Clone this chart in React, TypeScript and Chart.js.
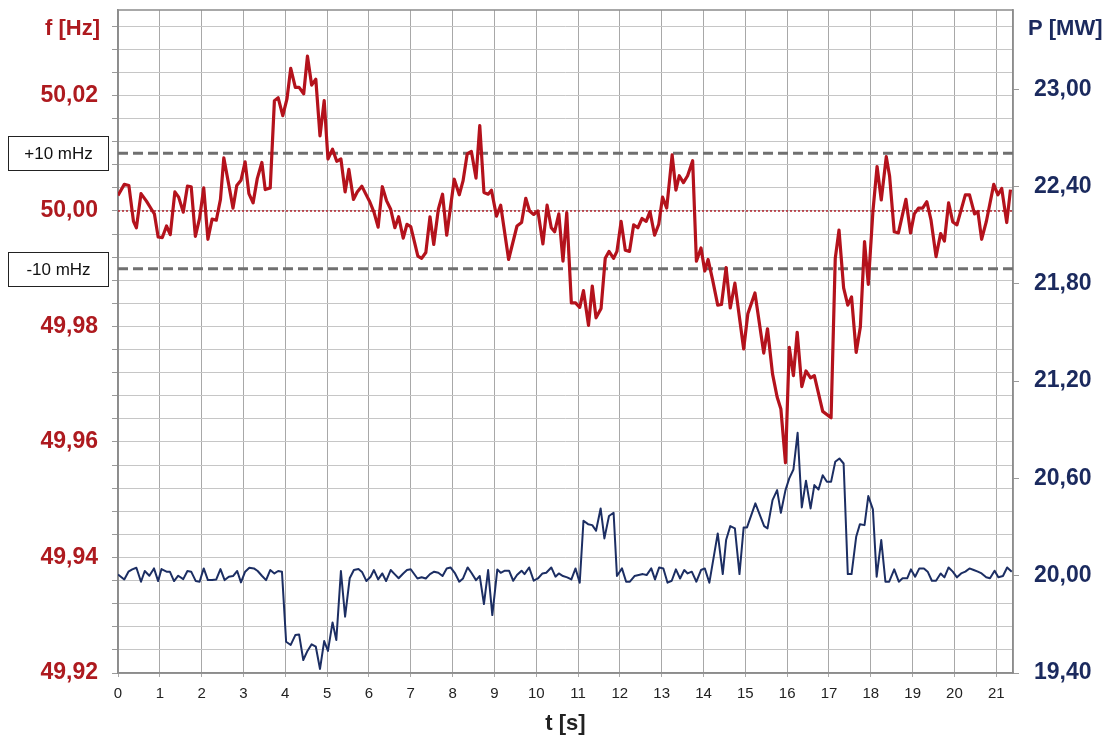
import { useEffect, useRef } from 'react';
import { Chart, registerables } from 'chart.js';

Chart.register(...registerables);

const FONT = '"Liberation Sans", Arial, Helvetica, sans-serif';
const RED_TXT = '#AE1A1F';
const NAVY_TXT = '#1B2A5E';
const RED_LINE = '#B4121C';
const BLUE_LINE = '#1C2E63';

// X axis tick labels (seconds)
const timeTicks = [0, 1, 2, 3, 4, 5, 6, 7, 8, 9, 10, 11, 12, 13, 14, 15, 16, 17, 18, 19, 20, 21];
const timeMax = 21.4;

// Left axis (frequency)
const freqLabelTicks = [49.92, 49.94, 49.96, 49.98, 50.0, 50.02];
const freqMin = 49.92;
const freqMax = 50.0348;
const freqGridStep = 0.004;
const freqGridTop = 50.032;

// Right axis (power)
const powerTicks = [19.4, 20.0, 20.6, 21.2, 21.8, 22.4, 23.0];
const powerMin = 19.4;
const powerMax = 23.489;

// Reference lines
const nominalFreq = 50.0;
const bandFreqs = [50.01, 49.99];
const bandLabels = ['+10 mHz', '-10 mHz'];

// Frequency series [t (s), f (Hz)]
const freqSeries: [number, number][] = [
  [0.0, 50.0027], [0.15, 50.0046], [0.26, 50.0044], [0.37, 49.9982], [0.44, 49.9971], [0.55, 50.003], [0.68, 50.0017], [0.8, 50.0003], [0.87, 49.9995], [0.96, 49.9955],
  [1.06, 49.9954], [1.16, 49.9974], [1.25, 49.9959], [1.36, 50.0033], [1.45, 50.0024], [1.56, 49.9998], [1.66, 50.0043], [1.75, 50.0042], [1.85, 49.9956], [1.95, 49.9987],
  [2.05, 50.004], [2.15, 49.9951], [2.25, 49.9986], [2.35, 49.9984], [2.45, 50.002], [2.53, 50.0092], [2.64, 50.0049], [2.75, 50.0005], [2.84, 50.0044], [2.94, 50.0053],
  [3.04, 50.0085], [3.13, 50.003], [3.23, 50.0014], [3.33, 50.0056], [3.44, 50.0084], [3.52, 50.0037], [3.64, 50.004], [3.74, 50.0191], [3.83, 50.0196], [3.94, 50.0165],
  [4.04, 50.0194], [4.13, 50.0247], [4.24, 50.0214], [4.33, 50.0214], [4.44, 50.0203], [4.53, 50.0268], [4.63, 50.0218], [4.73, 50.0228], [4.83, 50.013], [4.93, 50.0191],
  [5.02, 50.009], [5.13, 50.0107], [5.23, 50.0086], [5.33, 50.009], [5.43, 50.0033], [5.52, 50.0072], [5.63, 50.002], [5.72, 50.0033], [5.83, 50.0043], [5.92, 50.003],
  [6.02, 50.0016], [6.12, 49.9998], [6.22, 49.9972], [6.32, 50.0042], [6.42, 50.0018], [6.52, 50.0003], [6.62, 49.9971], [6.71, 49.999], [6.82, 49.9953], [6.91, 49.9977],
  [7.0, 49.9973], [7.17, 49.9922], [7.26, 49.9918], [7.36, 49.9928], [7.46, 49.999], [7.55, 49.9942], [7.66, 50.0003], [7.76, 50.0029], [7.86, 49.9958], [8.04, 50.0055],
  [8.16, 50.0028], [8.25, 50.0052], [8.35, 50.0099], [8.45, 50.0103], [8.56, 50.0057], [8.65, 50.0148], [8.75, 50.0032], [8.85, 50.0029], [8.93, 50.0036], [9.05, 49.9991],
  [9.15, 50.001], [9.34, 49.9916], [9.54, 49.9974], [9.65, 49.998], [9.75, 50.0022], [9.84, 50.0], [9.94, 49.9994], [10.04, 50.0], [10.16, 49.9943], [10.26, 50.001],
  [10.36, 49.9971], [10.44, 49.9964], [10.54, 49.9995], [10.64, 49.9913], [10.73, 49.9997], [10.84, 49.9841], [10.94, 49.9841], [11.04, 49.9833], [11.13, 49.9862], [11.25, 49.9802],
  [11.34, 49.987], [11.43, 49.9815], [11.55, 49.9831], [11.65, 49.9918], [11.74, 49.993], [11.85, 49.9918], [11.93, 49.993], [12.03, 49.9982], [12.13, 49.9932], [12.23, 49.993],
  [12.33, 49.9976], [12.43, 49.9971], [12.53, 49.9987], [12.63, 49.9982], [12.72, 49.9999], [12.83, 49.9958], [12.93, 49.9977], [13.02, 50.0024], [13.12, 50.0005], [13.25, 50.0097],
  [13.34, 50.0036], [13.42, 50.0061], [13.52, 50.0049], [13.62, 50.0061], [13.74, 50.0087], [13.83, 49.9913], [13.94, 49.9936], [14.03, 49.9896], [14.11, 49.9916], [14.22, 49.988],
  [14.34, 49.9837], [14.43, 49.9838], [14.54, 49.9902], [14.64, 49.9832], [14.75, 49.9875], [14.96, 49.9761], [15.06, 49.9822], [15.23, 49.9858], [15.44, 49.9754], [15.53, 49.9796],
  [15.65, 49.9718], [15.76, 49.9678], [15.85, 49.9657], [15.96, 49.9564], [16.05, 49.9764], [16.15, 49.9715], [16.24, 49.979], [16.35, 49.9696], [16.45, 49.9723], [16.56, 49.9711],
  [16.65, 49.9715], [16.85, 49.9653], [17.05, 49.9642], [17.15, 49.9918], [17.24, 49.9967], [17.35, 49.9867], [17.45, 49.9837], [17.54, 49.9851], [17.65, 49.9755], [17.75, 49.9799],
  [17.85, 49.9947], [17.94, 49.9873], [18.05, 49.9999], [18.15, 50.0077], [18.25, 50.0019], [18.37, 50.0094], [18.45, 50.006], [18.56, 49.9964], [18.66, 49.9962], [18.84, 50.002],
  [18.95, 49.9962], [19.04, 49.9995], [19.14, 50.0005], [19.24, 50.0005], [19.34, 50.0016], [19.44, 49.9984], [19.56, 49.9921], [19.67, 49.9961], [19.76, 49.9948], [19.86, 50.0014],
  [19.96, 49.9981], [20.06, 49.9976], [20.16, 50.0002], [20.26, 50.0028], [20.36, 50.0028], [20.48, 49.9995], [20.56, 49.9999], [20.65, 49.9951], [20.76, 49.9981], [20.94, 50.0046],
  [21.04, 50.0028], [21.13, 50.0039], [21.25, 49.998], [21.34, 50.0037],
];

// Power series [t (s), P (MW)]
const powerSeries: [number, number][] = [
  [0.0, 20.008], [0.15, 19.977], [0.25, 20.025], [0.34, 20.039], [0.44, 20.049], [0.55, 19.963], [0.64, 20.029], [0.75, 20.0], [0.86, 20.045], [0.96, 19.967],
  [1.04, 20.041], [1.16, 20.025], [1.24, 20.025], [1.34, 19.967], [1.44, 20.0], [1.56, 19.979], [1.66, 20.029], [1.75, 20.025], [1.86, 19.967], [1.95, 19.963],
  [2.05, 20.045], [2.15, 19.973], [2.25, 19.973], [2.35, 19.977], [2.45, 20.041], [2.55, 19.973], [2.65, 19.994], [2.75, 19.998], [2.85, 20.029], [2.94, 19.959],
  [3.04, 20.025], [3.14, 20.049], [3.25, 20.045], [3.34, 20.029], [3.44, 20.0], [3.54, 19.973], [3.64, 20.035], [3.74, 20.014], [3.83, 20.029], [3.92, 20.025],
  [4.02, 19.593], [4.13, 19.573], [4.24, 19.634], [4.33, 19.638], [4.43, 19.48], [4.53, 19.536], [4.63, 19.577], [4.73, 19.562], [4.83, 19.425], [4.93, 19.597],
  [5.02, 19.536], [5.13, 19.712], [5.22, 19.603], [5.33, 20.029], [5.43, 19.747], [5.54, 19.984], [5.64, 20.035], [5.75, 20.041], [5.84, 20.021], [5.94, 19.967],
  [6.04, 19.994], [6.12, 20.035], [6.22, 19.977], [6.32, 20.014], [6.41, 19.967], [6.52, 20.035], [6.62, 20.008], [6.71, 19.984], [6.82, 20.014], [6.91, 20.035],
  [7.0, 20.04], [7.06, 20.018], [7.16, 19.983], [7.26, 19.99], [7.36, 19.983], [7.46, 20.01], [7.56, 20.025], [7.66, 20.018], [7.76, 19.998], [7.86, 20.045],
  [7.95, 20.051], [8.06, 20.014], [8.16, 19.963], [8.25, 19.983], [8.36, 20.051], [8.45, 20.018], [8.56, 19.973], [8.65, 19.998], [8.75, 19.825], [8.85, 20.035],
  [8.95, 19.757], [9.07, 20.039], [9.15, 20.018], [9.25, 20.031], [9.35, 20.031], [9.45, 19.969], [9.54, 20.004], [9.65, 20.031], [9.72, 20.01], [9.83, 20.051],
  [9.94, 19.969], [10.04, 19.983], [10.15, 20.014], [10.24, 20.018], [10.36, 20.051], [10.46, 19.994], [10.54, 20.014], [10.64, 19.998], [10.74, 19.99], [10.84, 19.977],
  [10.94, 20.045], [11.04, 19.957], [11.13, 20.339], [11.24, 20.318], [11.34, 20.312], [11.43, 20.277], [11.54, 20.415], [11.63, 20.23], [11.74, 20.368], [11.85, 20.388],
  [11.93, 19.998], [12.05, 20.045], [12.15, 19.963], [12.24, 19.963], [12.35, 19.998], [12.45, 20.004], [12.55, 20.01], [12.64, 20.004], [12.75, 20.045], [12.84, 19.977],
  [12.94, 20.051], [13.04, 20.045], [13.14, 19.957], [13.24, 19.969], [13.34, 20.039], [13.44, 19.983], [13.54, 20.035], [13.62, 20.014], [13.72, 20.025], [13.83, 19.963],
  [13.94, 20.035], [14.03, 20.045], [14.14, 19.957], [14.34, 20.261], [14.46, 20.01], [14.54, 20.22], [14.64, 20.306], [14.75, 20.292], [14.86, 20.01], [14.96, 20.298],
  [15.04, 20.298], [15.24, 20.446], [15.45, 20.306], [15.53, 20.292], [15.65, 20.466], [15.76, 20.528], [15.85, 20.388], [15.96, 20.528], [16.05, 20.6], [16.15, 20.655],
  [16.25, 20.881], [16.35, 20.421], [16.45, 20.586], [16.56, 20.415], [16.65, 20.559], [16.75, 20.532], [16.85, 20.62], [16.95, 20.579], [17.05, 20.579], [17.15, 20.703],
  [17.25, 20.723], [17.35, 20.692], [17.45, 20.01], [17.54, 20.01], [17.65, 20.24], [17.74, 20.318], [17.85, 20.312], [17.94, 20.491], [18.05, 20.409], [18.14, 19.994],
  [18.25, 20.22], [18.35, 19.963], [18.44, 19.963], [18.56, 20.039], [18.67, 19.963], [18.76, 19.984], [18.87, 19.984], [18.96, 20.039], [19.06, 19.994], [19.16, 20.045],
  [19.27, 20.045], [19.36, 20.025], [19.46, 19.969], [19.56, 19.969], [19.67, 20.014], [19.76, 19.99], [19.86, 20.051], [19.96, 20.025], [20.06, 19.99], [20.16, 20.014],
  [20.26, 20.025], [20.36, 20.045], [20.46, 20.035], [20.56, 20.025], [20.65, 20.014], [20.76, 19.99], [20.85, 19.984], [20.96, 20.031], [21.05, 19.99], [21.16, 19.998],
  [21.26, 20.051], [21.37, 20.025],
];

const fmt = (v: number) => v.toFixed(2).replace('.', ',');

export default function App() {
  const ref = useRef<HTMLCanvasElement>(null);

  useEffect(() => {
    const canvas = ref.current;
    if (!canvas) return;

    const overlay = {
      id: 'overlay',
      beforeDatasetsDraw(chart: any) {
        const { ctx, chartArea } = chart;
        ctx.save();
        ctx.strokeStyle = '#8C8C8C';
        ctx.lineWidth = 1.5;
        ctx.strokeRect(chartArea.left, chartArea.top, chartArea.right - chartArea.left, chartArea.bottom - chartArea.top);
        ctx.restore();
      },
      afterDraw(chart: any) {
        const { ctx } = chart;
        const yF = chart.scales.yF;
        ctx.save();
        ctx.font = `bold 22px ${FONT}`;
        ctx.textBaseline = 'middle';
        ctx.fillStyle = RED_TXT;
        ctx.textAlign = 'right';
        ctx.fillText('f [Hz]', 100, 29);
        ctx.fillStyle = NAVY_TXT;
        ctx.textAlign = 'left';
        ctx.fillText('P [MW]', 1028, 29);

        ctx.font = `17px ${FONT}`;
        ctx.textAlign = 'center';
        bandFreqs.forEach((f, i) => {
          const y = Math.round(yF.getPixelForValue(f));
          ctx.fillStyle = '#FFFFFF';
          ctx.fillRect(8, y - 17, 101, 35);
          ctx.strokeStyle = '#222222';
          ctx.lineWidth = 1;
          ctx.strokeRect(8.5, y - 16.5, 100, 34);
          ctx.fillStyle = '#111111';
          ctx.fillText(bandLabels[i], 58.5, y + 1);
        });
        ctx.restore();
      },
    };

    const chart = new Chart(canvas, {
      type: 'line',
      data: {
        datasets: [
          {
            label: 'f',
            data: freqSeries.map(([x, y]) => ({ x, y })),
            yAxisID: 'yF',
            borderColor: RED_LINE,
            borderWidth: 3.2,
            pointRadius: 0,
            tension: 0,
            borderJoinStyle: 'round',
            order: 0,
          },
          {
            label: 'P',
            data: powerSeries.map(([x, y]) => ({ x, y })),
            yAxisID: 'yP',
            borderColor: BLUE_LINE,
            borderWidth: 2,
            pointRadius: 0,
            tension: 0,
            borderJoinStyle: 'round',
            order: 1,
          },
          ...bandFreqs.map((f) => ({
            label: 'band',
            data: [{ x: 0, y: f }, { x: timeMax, y: f }],
            yAxisID: 'yF',
            borderColor: '#707070',
            borderWidth: 3,
            borderDash: [10, 5],
            pointRadius: 0,
            order: 2,
          })),
          {
            label: 'nominal',
            data: [{ x: 0, y: nominalFreq }, { x: timeMax, y: nominalFreq }],
            yAxisID: 'yF',
            borderColor: '#B0202A',
            borderWidth: 1.5,
            borderDash: [2, 2],
            pointRadius: 0,
            order: 3,
          },
        ] as any,
      },
      options: {
        responsive: false,
        animation: false,
        devicePixelRatio: 1,
        layout: { padding: { top: 10, left: 0, right: 0, bottom: 0 } },
        plugins: { legend: { display: false }, tooltip: { enabled: false } },
        events: [],
        scales: {
          x: {
            type: 'linear',
            min: 0,
            max: timeMax,
            afterBuildTicks: (s: any) => {
              s.ticks = timeTicks.map((v) => ({ value: v }));
            },
            afterFit: (s: any) => {
              s.height = 65;
              s.paddingLeft = 0;
              s.paddingRight = 0;
            },
            grid: { color: '#A8A8A8', lineWidth: 1, tickLength: 4, drawTicks: true },
            border: { display: true, color: '#8C8C8C', width: 1.5 },
            ticks: {
              autoSkip: false,
              maxRotation: 0,
              padding: 8,
              color: '#222222',
              font: { family: FONT, size: 15 },
              callback: (v: any) => String(v),
            },
            title: {
              display: true,
              text: 't [s]',
              color: '#222222',
              font: { family: FONT, size: 22, weight: 'bold' },
              padding: { top: 0, bottom: 1 },
            },
          },
          yF: {
            type: 'linear',
            position: 'left',
            min: freqMin,
            max: freqMax,
            afterBuildTicks: (s: any) => {
              const t: { value: number }[] = [];
              for (let v = freqMin; v <= freqGridTop + 1e-9; v += freqGridStep) t.push({ value: Math.round(v * 1000) / 1000 });
              s.ticks = t;
            },
            afterFit: (s: any) => {
              s.width = 118;
              s.paddingTop = 0;
              s.paddingBottom = 0;
            },
            grid: { color: '#C6C6C6', lineWidth: 1, tickLength: 6, tickColor: '#9A9A9A' },
            border: { display: true, color: '#8C8C8C', width: 1.5 },
            ticks: {
              autoSkip: false,
              padding: 14,
              color: RED_TXT,
              font: { family: FONT, size: 23, weight: 'bold' },
              callback: (v: any) => (freqLabelTicks.some((m) => Math.abs(m - v) < 1e-6) ? fmt(Number(v)) : ''),
            },
          },
          yP: {
            type: 'linear',
            position: 'right',
            min: powerMin,
            max: powerMax,
            afterBuildTicks: (s: any) => {
              s.ticks = powerTicks.map((v) => ({ value: v }));
            },
            afterFit: (s: any) => {
              s.width = 102;
              s.paddingTop = 0;
              s.paddingBottom = 0;
            },
            grid: { drawOnChartArea: false, tickLength: 6, color: '#9A9A9A' },
            border: { display: true, color: '#8C8C8C', width: 1.5 },
            ticks: {
              autoSkip: false,
              padding: 15,
              color: NAVY_TXT,
              font: { family: FONT, size: 23, weight: 'bold' },
              callback: (v: any) => fmt(Number(v)),
            },
          },
        },
      } as any,
      plugins: [overlay],
    });

    return () => chart.destroy();
  }, []);

  return (
    <div style={{ position: 'fixed', left: 0, top: 0, width: 1115, height: 738, background: '#FFFFFF' }}>
      <canvas ref={ref} width={1115} height={738} style={{ display: 'block' }} />
    </div>
  );
}
